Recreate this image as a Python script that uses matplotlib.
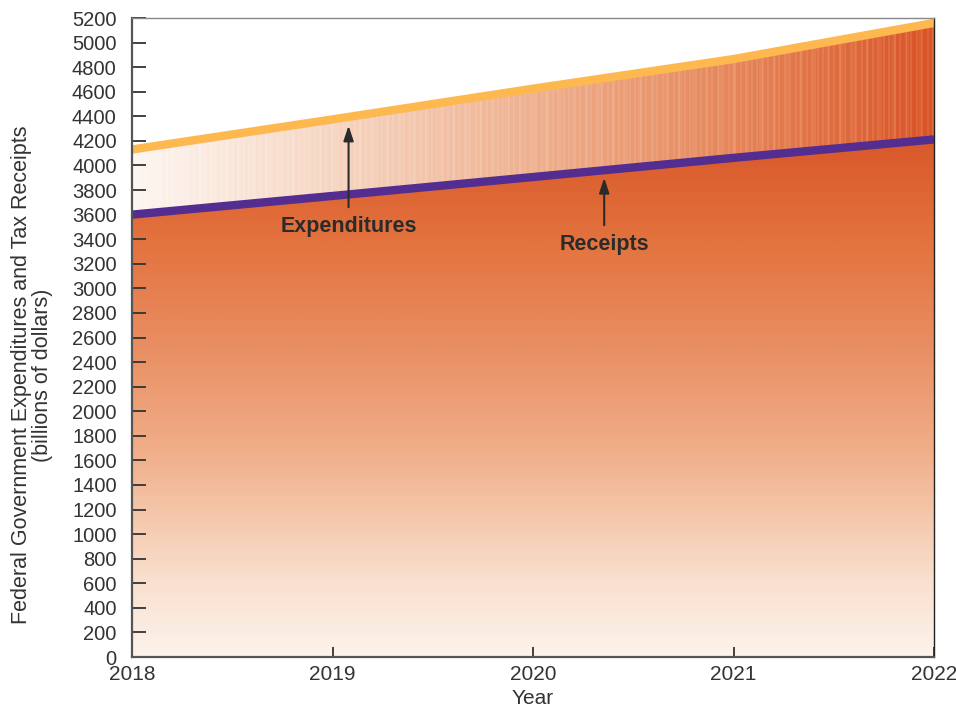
'''
Federal expenditures vs tax receipts, 2018-2022, with gradient fills
'''
import numpy as np
import matplotlib
matplotlib.use('Agg')
import matplotlib.pyplot as plt
from matplotlib.colors import LinearSegmentedColormap
from matplotlib.patches import Polygon

plt.rcParams['font.family'] = ['Liberation Sans', 'DejaVu Sans']

years = [2018, 2019, 2020, 2021, 2022]
expenditures = [4130, 4375, 4625, 4866, 5160]
receipts = [3600, 3752, 3906, 4062, 4212]
yticks = list(range(0, 5201, 200))

TEXT = '#333333'

def gradientCmaps():
    '''
    Colour maps for the two filled regions
    '''
    under = LinearSegmentedColormap.from_list('under', [
        (0.0, '#fcf3ec'), (0.15, '#f9dfcd'), (0.4, '#f0ae88'),
        (0.6, '#e98e63'), (0.8, '#e3733f'), (1.0, '#d9582a')])
    gap = LinearSegmentedColormap.from_list('gap', [
        (0.0, '#fdf6f1'), (0.25, '#f6d5c1'), (0.5, '#efb08f'),
        (0.75, '#e6865a'), (1.0, '#d95428')])
    return under, gap

def main():
    fig = plt.figure(figsize=(9.56, 7.09), dpi=100)
    ax = fig.add_axes([0.1381, 0.0733, 0.9770 - 0.1381, 0.9746 - 0.0733])

    x = np.array(years, dtype=float)
    exp = np.array(expenditures, dtype=float)
    rec = np.array(receipts, dtype=float)
    under, gap = gradientCmaps()

    # vertical gradient below the receipts line
    vgrad = np.linspace(0, 1, 400).reshape(-1, 1)
    im1 = ax.imshow(vgrad, cmap=under, origin='lower', aspect='auto',
                    extent=[x[0], x[-1], 0, rec.max()], zorder=1)
    poly1 = Polygon(np.column_stack([np.r_[x, x[::-1]], np.r_[rec, np.zeros_like(rec)]]),
                    closed=True, transform=ax.transData, facecolor='none', edgecolor='none')
    ax.add_patch(poly1)
    im1.set_clip_path(poly1)

    # horizontal gradient between the two lines, with fine vertical streaks
    cols = np.linspace(0, 1, 800)
    streak = 0.06 * (np.sin(cols * 913.0) > 0.55) + 0.04 * (np.sin(cols * 377.0 + 1.3) > 0.7)
    hgrad = np.clip(cols - streak * (0.3 + cols), 0, 1).reshape(1, -1)
    im2 = ax.imshow(hgrad, cmap=gap, origin='lower', aspect='auto',
                    extent=[x[0], x[-1], rec.min(), exp.max()], zorder=1,
                    interpolation='nearest')
    poly2 = Polygon(np.column_stack([np.r_[x, x[::-1]], np.r_[exp, rec[::-1]]]),
                    closed=True, transform=ax.transData, facecolor='none', edgecolor='none')
    ax.add_patch(poly2)
    im2.set_clip_path(poly2)

    ax.plot(x, exp, color='#fdb84f', lw=6, solid_capstyle='butt', zorder=3)
    ax.plot(x, rec, color='#532d8f', lw=6, solid_capstyle='butt', zorder=3)

    # labels with arrows
    ax.annotate('', xy=(2019.08, 4347), xytext=(2019.08, 3638),
                arrowprops=dict(arrowstyle='-|>,head_length=0.9,head_width=0.3',
                                color='#2b2b2b', lw=1.5), zorder=4)
    ax.text(2019.08, 3500, 'Expenditures', ha='center', va='center',
            fontsize=15.5, fontweight='bold', color='#2b2b2b', zorder=4)
    ax.annotate('', xy=(2020.355, 3922), xytext=(2020.355, 3491),
                arrowprops=dict(arrowstyle='-|>,head_length=0.9,head_width=0.3',
                                color='#2b2b2b', lw=1.5), zorder=4)
    ax.text(2020.355, 3355, 'Receipts', ha='center', va='center',
            fontsize=15.5, fontweight='bold', color='#2b2b2b', zorder=4)

    ax.set_xlim(2018, 2022)
    ax.set_ylim(0, 5200)
    ax.set_xticks(years)
    ax.set_xticklabels([str(y) for y in years])
    ax.set_yticks(yticks)
    ax.tick_params(axis='y', direction='in', length=10, width=1.3, pad=11,
                   labelsize=14.5, labelcolor=TEXT, color='#333333')
    ax.tick_params(axis='x', direction='in', length=7, width=1.3, pad=6,
                   labelsize=15, labelcolor=TEXT, color='#333333')

    for side in ['left', 'bottom']:
        ax.spines[side].set_color('#555555')
        ax.spines[side].set_linewidth(1.6)
    ax.spines['top'].set_color('#888888')
    ax.spines['top'].set_linewidth(1.0)
    ax.spines['right'].set_color('#222222')
    ax.spines['right'].set_linewidth(1.0)
    for s in ax.spines.values():
        s.set_zorder(5)

    ax.set_xlabel('Year', fontsize=15, color=TEXT, labelpad=3.5)
    fig.text(32 / 956, 1 - 375 / 709,
             'Federal Government Expenditures and Tax Receipts\n(billions of dollars)',
             rotation=90, ha='center', va='center', fontsize=15.5, color=TEXT,
             linespacing=1.05)

    fig.savefig('out.png', dpi=100)

if __name__ == '__main__':
    main()
